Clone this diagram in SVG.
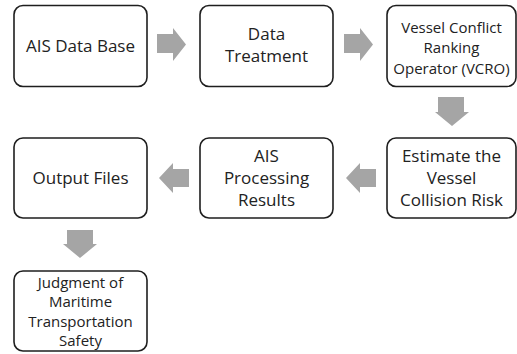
<svg xmlns="http://www.w3.org/2000/svg" width="517" height="354" viewBox="0 0 517 354">
<style>
.box{fill:#fff;stroke:#1e1e1e;stroke-width:1.6}
.t{font-family:"Open Sans","Noto Sans",sans-serif;fill:#222;text-anchor:middle}
.a{fill:#a5a5a5}
</style>
<rect width="517" height="354" fill="#fff"/>
<g id="connectors">
<path class="a" d="M157,34 H173 V28 L186,44.5 L173,61 V53 H157 Z"/>
<path class="a" d="M344,34 H360 V28 L373,44.5 L360,61 V53 H344 Z"/>
<path class="a" d="M438,97 H464 V112 H469 L452,126 L435,112 H438 Z"/>
<path class="a" d="M376,169 H360 V163 L346,178 L360,193 V187 H376 Z"/>
<path class="a" d="M189,169 H173 V163 L159,178 L173,193 V187 H189 Z"/>
<path class="a" d="M67,230 H93 V244 H97 L80,258 L63,244 H67 Z"/>
</g>
<g id="ais-data-base">
<rect class="box" x="14" y="5.5" width="133" height="81" rx="9"/>
<text class="t" x="80.5" y="52" font-size="17">AIS Data Base</text>
</g>
<g id="data-treatment">
<rect class="box" x="200" y="5.5" width="133" height="81" rx="9"/>
<text class="t" x="266.5" y="40" font-size="17">Data</text>
<text class="t" x="266.5" y="62" font-size="17">Treatment</text>
</g>
<g id="vcro">
<rect class="box" x="387" y="5.5" width="129" height="81" rx="9"/>
<text class="t" x="451.5" y="33" font-size="15">Vessel Conflict</text>
<text class="t" x="451.5" y="53" font-size="15">Ranking</text>
<text class="t" x="451.5" y="74" font-size="15">Operator (VCRO)</text>
</g>
<g id="estimate-risk">
<rect class="box" x="387" y="138" width="129" height="80" rx="9"/>
<text class="t" x="451.5" y="162" font-size="17">Estimate the</text>
<text class="t" x="451.5" y="184" font-size="17">Vessel</text>
<text class="t" x="451.5" y="206" font-size="17">Collision Risk</text>
</g>
<g id="ais-processing-results">
<rect class="box" x="200" y="138" width="133" height="80" rx="9"/>
<text class="t" x="266.5" y="162" font-size="17">AIS</text>
<text class="t" x="266.5" y="184" font-size="17">Processing</text>
<text class="t" x="266.5" y="206" font-size="17">Results</text>
</g>
<g id="output-files">
<rect class="box" x="14" y="138" width="133" height="80" rx="9"/>
<text class="t" x="80.5" y="184" font-size="17">Output Files</text>
</g>
<g id="judgment">
<rect class="box" x="14" y="271" width="133" height="80" rx="9"/>
<text class="t" x="80.5" y="288" font-size="15">Judgment of</text>
<text class="t" x="80.5" y="307" font-size="15">Maritime</text>
<text class="t" x="80.5" y="327" font-size="15">Transportation</text>
<text class="t" x="80.5" y="346" font-size="15">Safety</text>
</g>
</svg>
